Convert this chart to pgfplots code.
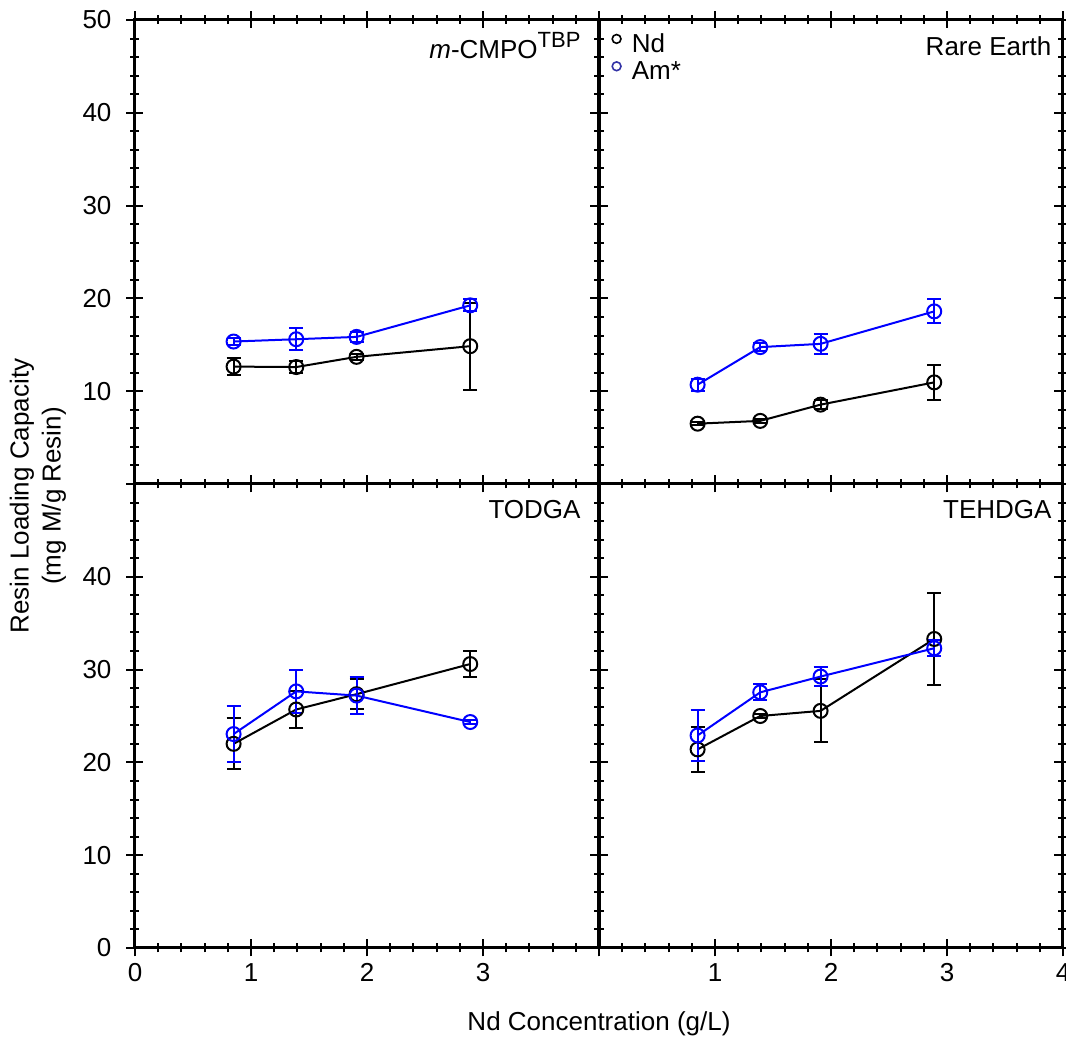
\documentclass[border=0pt]{standalone}
\usepackage{fontspec}
\setmainfont{Liberation Sans}
\usepackage{pgfplots}
\usepackage{pgfplotstable}
\pgfplotsset{compat=1.18}

% columns: Nd conc, Nd capacity, error, Am capacity, error
\pgfplotstableread{
x     nd     nde   am     ame
0.85  12.65  0.9   15.35  0.4
1.39  12.6   0.65  15.6   1.2
1.91  13.7   0.35  15.85  0.5
2.89  14.85  4.7   19.25  0.65
}\cmpo
\pgfplotstableread{
x     nd     nde   am     ame
0.85  6.5    0.15  10.7   0.65
1.39  6.8    0.2   14.75  0.45
1.91  8.55   0.45  15.1   1.1
2.89  10.95  1.85  18.6   1.3
}\ree
\pgfplotstableread{
x     nd     nde   am     ame
0.85  22.0   2.75  23.05  3.0
1.39  25.7   1.95  27.65  2.35
1.91  27.35  1.6   27.2   2.0
2.89  30.6   1.45  24.35  0.25
}\todga
\pgfplotstableread{
x     nd     nde   am     ame
0.85  21.4   2.4   22.9   2.75
1.39  25.0   0.2   27.55  0.85
1.91  25.55  3.4   29.25  1.05
2.89  33.3   5.0   32.3   0.85
}\tehdga

\newcommand{\lblfont}{\fontsize{13}{15}\selectfont}

\pgfplotsset{
  panel/.style={
    scale only axis, width=232pt, height=232pt,
    xmin=0, xmax=4, ymin=0, ymax=50,
    xtick={0,1,2,3,4}, ytick={0,10,20,30,40,50},
    minor x tick num=4, minor y tick num=4,
    tick align=center, tick pos=both,
    major tick length=8.5pt, minor tick length=4.5pt,
    axis line style={line width=1.5pt},
    tick style={black, line width=1pt},
    tick label style={font=\lblfont},
    yticklabel style={xshift=-4pt},
    /pgf/number format/assume math mode=true,
    xticklabels={}, yticklabels={},
  },
  nd/.style={black, line width=1pt, mark=o, mark size=3.5pt,
    mark options={solid, line width=1pt}},
  am/.style={blue, line width=1pt, mark=o, mark size=3.5pt,
    mark options={solid, line width=1pt}},
  ebar/.style={/pgfplots/error bars/y dir=both, /pgfplots/error bars/y explicit,
    /pgfplots/error bars/error bar style={line width=1pt},
    /pgfplots/error bars/error mark options={rotate=90, mark size=3.5pt, line width=1pt}},
}

\begin{document}
\begin{tikzpicture}
% top left
\begin{axis}[panel, name=tl, at={(0,232pt)}, anchor=south west,
  yticklabels={{},10,20,30,40,50}]
\addplot[nd, ebar] table[x=x, y=nd, y error=nde] {\cmpo};
\addplot[am, ebar] table[x=x, y=am, y error=ame] {\cmpo};
\node[anchor=north east, inner sep=0pt, font=\lblfont] at (rel axis cs:0.961,0.975) {{\itshape m}-CMPO\raisebox{0.42em}{\fontsize{11}{12}\selectfont TBP}};
\end{axis}
% top right
\begin{axis}[panel, name=tr, at={(232pt,232pt)}, anchor=south west,
  legend style={draw=none, fill=none, at={(0,1)}, anchor=north west,
    inner xsep=6pt, inner ysep=5pt, row sep=0pt, font=\lblfont,
    nodes={inner sep=1.5pt}},
  legend cell align=left,
  legend image code/.code={\draw[#1] (4.3pt,0.27em) circle (2.2pt); \path (10pt,0.27em);}]
\addplot[nd, ebar, forget plot] table[x=x, y=nd, y error=nde] {\ree};
\addplot[am, ebar, forget plot] table[x=x, y=am, y error=ame] {\ree};
\addlegendimage{black, line width=0.8pt}
\addlegendentry{Nd}
\addlegendimage{draw={rgb,1:red,0.2;green,0.2;blue,0.65}, line width=0.8pt}
\addlegendentry{Am*}
\node[anchor=north east, inner sep=0pt, font=\lblfont] at (rel axis cs:0.976,0.965) {Rare Earth};
\end{axis}
% bottom left
\begin{axis}[panel, name=bl, at={(0,0)}, anchor=south west,
  yticklabels={0,10,20,30,40,{}}, xticklabels={0,1,2,3,{}}]
\addplot[nd, ebar] table[x=x, y=nd, y error=nde] {\todga};
\addplot[am, ebar] table[x=x, y=am, y error=ame] {\todga};
\node[anchor=north east, inner sep=0pt, font=\lblfont] at (rel axis cs:0.961,0.965) {TODGA};
\end{axis}
% bottom right
\begin{axis}[panel, name=br, at={(232pt,0)}, anchor=south west,
  xticklabels={{},1,2,3,4}]
\addplot[nd, ebar] table[x=x, y=nd, y error=nde] {\tehdga};
\addplot[am, ebar] table[x=x, y=am, y error=ame] {\tehdga};
\node[anchor=north east, inner sep=0pt, font=\lblfont] at (rel axis cs:0.976,0.965) {TEHDGA};
\end{axis}

\path (232pt,-38pt) node[font=\lblfont] {Nd Concentration (g/L)};
\path (-48.5pt,226pt) node[rotate=90, align=center, font=\fontsize{13}{16}\selectfont] {Resin Loading Capacity\\(mg M/g Resin)};

\pgfresetboundingbox
\path (-67.5pt,-44.5pt) rectangle (465.5pt,474pt);
\end{tikzpicture}
\end{document}
